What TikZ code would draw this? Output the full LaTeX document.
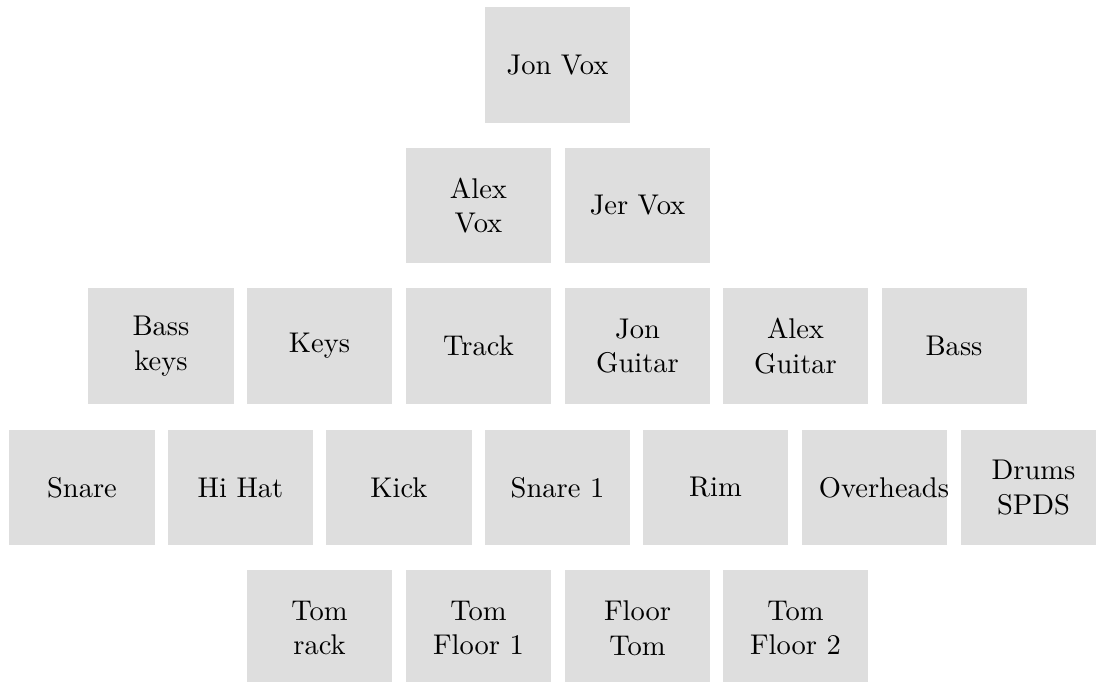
\documentclass[tikz,border=0pt]{standalone}
\begin{document}
\begin{tikzpicture}[x=0.3613pt,y=-0.3613pt,
  boxtext/.style={draw=none,minimum height=41.9pt,inner xsep=6.1pt,inner ysep=0pt,text width=40.2pt,align=center,font=\fontsize{10.3}{12.5}\selectfont},
  box/.style={boxtext,fill=black!13}]
\useasboundingbox (0,0) rectangle (1096,682);
\clip (0,0) rectangle (1096,682);
% row 1
\node[box] (jonvox) at (557.5,65) {Jon Vox};
% row 2
\node[box] (alexvox) at (478.5,205.5) {Alex\\Vox};
\node[box] (jervox) at (637.5,205.5) {Jer Vox};
% row 3
\node[box] (basskeys) at (161,346) {Bass\\keys};
\node[box] (keys) at (319.5,346) {Keys};
\node[box] (track) at (478.5,346) {Track};
\node[box] (jonguitar) at (637.5,346) {Jon\\Guitar};
\node[box] (alexguitar) at (795.5,346) {Alex\\Guitar};
\node[box] (bass) at (954,346) {Bass};
% row 4
\node[box] (snare) at (82,487.5) {Snare};
\node[box] (hihat) at (240.5,487.5) {Hi Hat};
\node[box] (kick) at (399,487.5) {Kick};
\node[box] (snare1) at (557.5,487.5) {Snare 1};
\node[box] (rim) at (715.5,487.5) {Rim};
\node[box] (overheads) at (874.5,487.5) {};
\begin{scope}
\clip (overheads.south west) rectangle (overheads.north east);
\node[boxtext] (overheadstext) at (overheads) {Overheads};
\end{scope}
\node[box] (drums) at (1033.5,487.5) {Drums\\SPDS};
% row 5
\node[box] (tomrack) at (319.5,628) {Tom\\rack};
\node[box] (tomfloor1) at (478.5,628) {Tom\\Floor 1};
\node[box] (floortom) at (637.5,628) {Floor\\Tom};
\node[box] (tomfloor2) at (795.5,628) {Tom\\Floor 2};
\end{tikzpicture}
\end{document}
